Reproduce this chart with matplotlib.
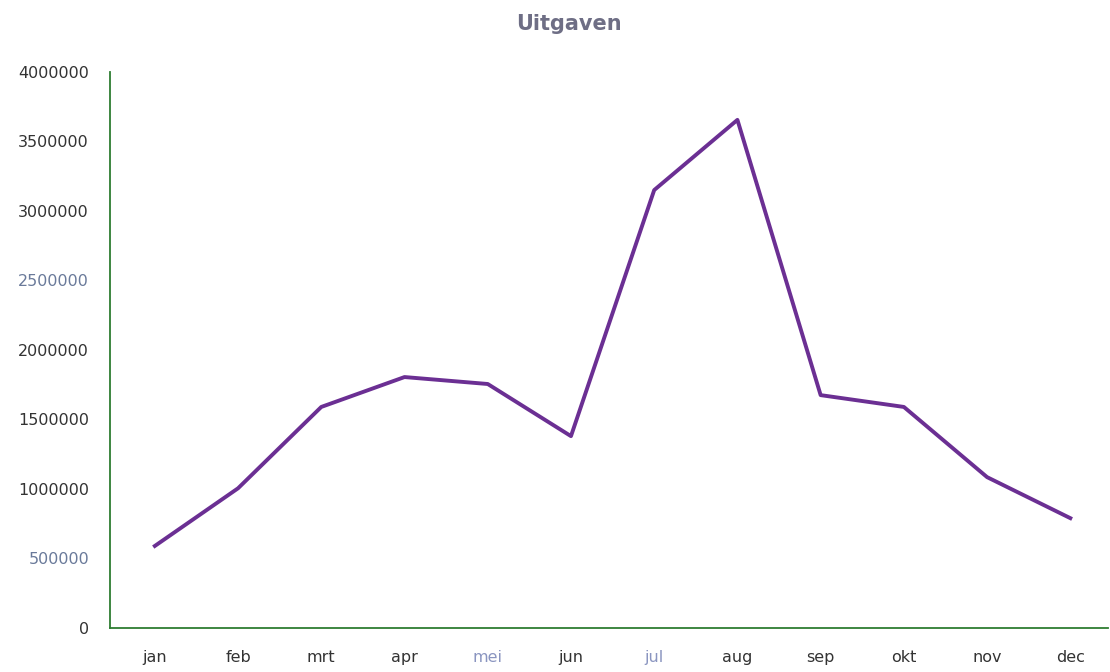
import matplotlib
matplotlib.use("Agg")
import matplotlib.pyplot as plt

# maandelijkse uitgaven
maanden = ["jan", "feb", "mrt", "apr", "mei", "jun", "jul", "aug", "sep", "okt", "nov", "dec"]
uitgaven = [590000, 1005000, 1590000, 1805000, 1755000, 1380000,
            3150000, 3655000, 1675000, 1590000, 1085000, 790000]
yticks = [0, 500000, 1000000, 1500000, 2000000, 2500000, 3000000, 3500000, 4000000]

fig = plt.figure(figsize=(11.1, 6.72), dpi=100)
ax = fig.add_axes([0.099, 0.0655, 0.899, 0.8275])

x = list(range(len(maanden)))
ax.plot(x, uitgaven, color="#6b2f93", linewidth=2.8, solid_joinstyle="round")

ax.set_xlim(-0.54, 11.45)
ax.set_ylim(0, 4000000)
ax.set_xticks(x)
ax.set_xticklabels(maanden)
ax.set_yticks(yticks)
ax.set_yticklabels([str(v) for v in yticks])
ax.tick_params(length=0, labelsize=11.5, colors="#333333")
ax.tick_params(axis="x", pad=16)
ax.tick_params(axis="y", pad=15)

# scan looks lighter on a few labels
for lab in ax.get_yticklabels():
    if lab.get_text() in ("500000", "2500000"):
        lab.set_color("#6a7a9a")
for lab in ax.get_xticklabels():
    if lab.get_text() in ("mei", "jul"):
        lab.set_color("#8a95c0")

for side in ("top", "right"):
    ax.spines[side].set_visible(False)
ax.spines["left"].set_color("#2e7d32")
ax.spines["bottom"].set_color("#2e7d32")
ax.spines["left"].set_linewidth(1.3)
ax.spines["bottom"].set_linewidth(1.3)

fig.text(0.513, 0.965, "Uitgaven", ha="center", va="center",
         fontsize=15, fontweight="bold", color="#6e6e85")

fig.savefig("out.png", dpi=100)
